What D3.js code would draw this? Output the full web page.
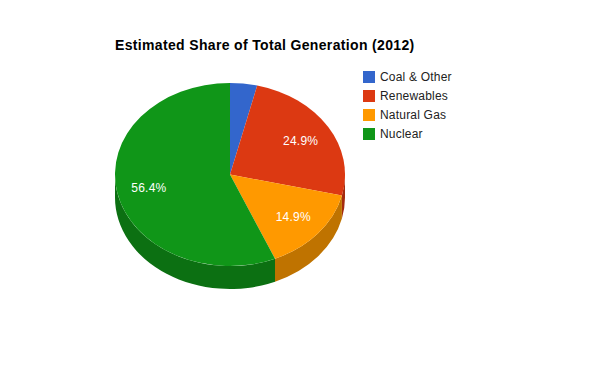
<!DOCTYPE html>
<html>
<head>
<meta charset="utf-8">
<script src="https://cdn.jsdelivr.net/npm/d3@7"></script>
<style>
    html, body { margin: 0; padding: 0; background: #fff; }
    svg { display: block; font-family: "Liberation Sans", Arial, sans-serif; }
</style>
</head>
<body>
<script>
var categories = ["Coal & Other", "Renewables", "Natural Gas", "Nuclear"];
var shares = [3.8, 24.9, 14.9, 56.4];
var topColors = ["#3366cc", "#dc3912", "#ff9900", "#109618"];
var sideColors = ["#264d99", "#a52b0e", "#bf7300", "#0c7012"];
var minLabelShare = 5; //the small slice has no label

var width = 600, height = 371;
var depth = 23;

var svg = d3.select("body")
    .append("svg")
    .attr("width", width)
    .attr("height", height);

svg.append("text")
    .attr("x", 115)
    .attr("y", 50)
    .style("font-size", "14px")
    .style("font-weight", "bold")
    .style("letter-spacing", "0.34px") //reference text is hinted and runs wider
    .style("fill", "#000")
    .text("Estimated Share of Total Generation (2012)");

//unit circle to the squashed ellipse on the page
var sx = d3.scaleLinear().domain([-1, 1]).range([115, 345]);
var sy = d3.scaleLinear().domain([-1, 1]).range([83, 266]);
var rx = (sx(1) - sx(-1)) / 2, ry = (sy(1) - sy(-1)) / 2;

var pie = d3.pie().sort(null).value(function(d){ return d.share; });
var slices = pie(categories.map(function(c, i){
    return { name: c, share: shares[i], top: topColors[i], side: sideColors[i] };
}));

function px(a){ return sx(Math.sin(a)); }
function py(a){ return sy(-Math.cos(a)); }

//only the front half of the rim is visible
function sidePath(d){
    var a0 = Math.max(d.startAngle, Math.PI / 2);
    var a1 = Math.min(d.endAngle, Math.PI * 1.5);
    if (a0 >= a1) return null;
    return "M" + px(a0) + "," + py(a0) +
        "A" + rx + "," + ry + " 0 0 1 " + px(a1) + "," + py(a1) +
        "L" + px(a1) + "," + (py(a1) + depth) +
        "A" + rx + "," + ry + " 0 0 0 " + px(a0) + "," + (py(a0) + depth) + "Z";
}

function topPath(d){
    var large = d.endAngle - d.startAngle > Math.PI ? 1 : 0;
    return "M" + sx(0) + "," + sy(0) +
        "L" + px(d.startAngle) + "," + py(d.startAngle) +
        "A" + rx + "," + ry + " 0 " + large + " 1 " + px(d.endAngle) + "," + py(d.endAngle) + "Z";
}

svg.selectAll(".side")
    .data(slices.filter(sidePath))
    .enter()
    .append("path")
    .attr("class", "side")
    .attr("d", sidePath)
    .style("fill", function(d){ return d.data.side; });

svg.selectAll(".slice")
    .data(slices)
    .enter()
    .append("path")
    .attr("class", "slice")
    .attr("d", topPath)
    .style("fill", function(d){ return d.data.top; });

//percent labels sit at about 0.72 of the radius
svg.selectAll(".pct")
    .data(slices.filter(function(d){ return d.data.share >= minLabelShare; }))
    .enter()
    .append("text")
    .attr("class", "pct")
    .attr("text-anchor", "middle")
    .attr("x", function(d){ return sx(0.72 * Math.sin((d.startAngle + d.endAngle) / 2)); })
    .attr("y", function(d){ return sy(-0.72 * Math.cos((d.startAngle + d.endAngle) / 2)) + 4.5; })
    .style("font-size", "12px")
    .style("letter-spacing", "0.25px")
    .style("fill", "#fff")
    .text(function(d){ return d3.format(".1f")(d.data.share) + "%"; });

//legend
var ly = d3.scalePoint().domain(categories).range([77, 134]);

var legend = svg.selectAll(".legend")
    .data(categories)
    .enter()
    .append("g")
    .attr("class", "legend")
    .attr("transform", function(d){ return "translate(363," + ly(d) + ")"; });

legend.append("rect")
    .attr("x", 0)
    .attr("y", -6)
    .attr("width", 12)
    .attr("height", 12)
    .style("fill", function(d, i){ return topColors[i]; });

legend.append("text")
    .attr("x", 17)
    .attr("y", 4)
    .style("font-size", "12px")
    .style("letter-spacing", "0.2px")
    .style("fill", "#222")
    .text(function(d){ return d; });
</script>
</body>
</html>
